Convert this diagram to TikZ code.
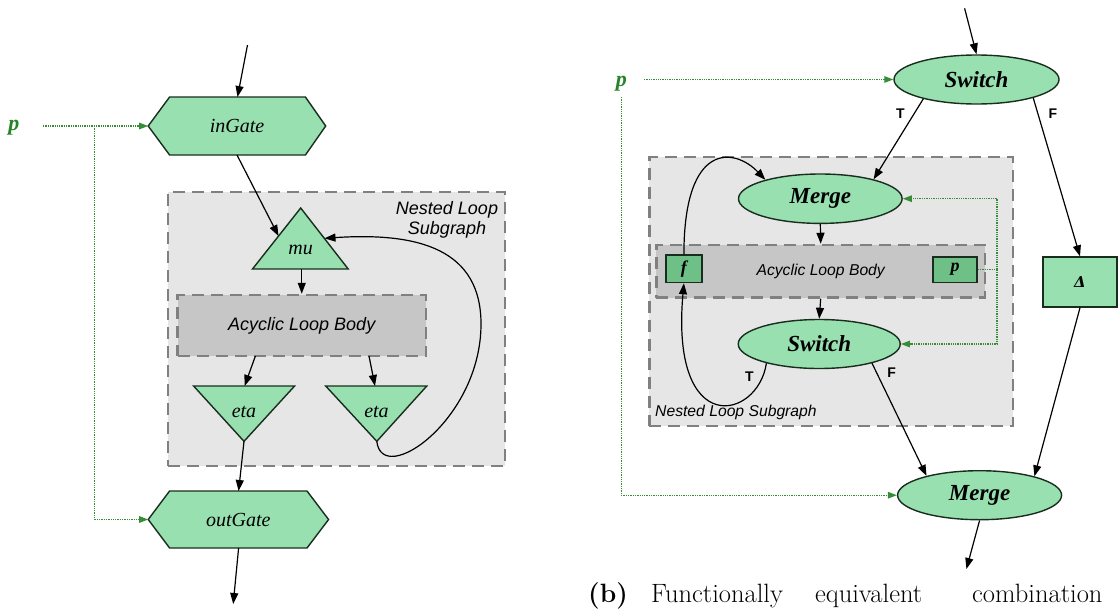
\documentclass[tikz,border=0pt]{standalone}
\usepackage{fontspec}
\newfontfamily\lsans{Liberation Sans}
\newfontfamily\lserif{Liberation Serif}
\newfontfamily\dserif{DejaVu Serif}
\usetikzlibrary{arrows.meta,shapes.geometric}
\definecolor{nfill}{RGB}{152,224,176}
\definecolor{nline}{RGB}{25,45,30}
\definecolor{boxfill}{RGB}{230,230,230}
\definecolor{albfill}{RGB}{198,198,198}
\definecolor{dashc}{RGB}{128,128,128}
\definecolor{pgreen}{RGB}{40,130,40}
\definecolor{dotc}{RGB}{55,140,55}
\definecolor{sqfill}{RGB}{110,192,135}
\begin{document}
\begin{tikzpicture}[x=1pt,y=-1pt,
  shapeline/.style={draw=nline,line width=1.4pt,fill=nfill,line join=miter},
  flow/.style={draw=black,line width=1.2pt,-{Triangle[length=11pt,width=8pt]}},
  pdot/.style={draw=dotc,line width=1.3pt,densely dotted,-{Triangle[length=9pt,width=6.5pt]}},
  pdotl/.style={draw=dotc,line width=1.3pt,densely dotted},
  nestbox/.style={draw=dashc,fill=boxfill,line width=2.5pt,dash pattern=on 12pt off 7pt,inner sep=0pt},
  albbox/.style={draw=dashc,fill=albfill,line width=2.5pt,dash pattern=on 12pt off 7pt,inner sep=0pt},
  serifit/.style={font=\lserif\fontsize{20}{22}\selectfont\itshape,inner sep=0pt},
  sansit/.style={font=\lsans\fontsize{18}{20}\selectfont\itshape,inner sep=0pt},
  sansits/.style={font=\lsans\fontsize{15.7}{18}\selectfont\itshape,inner sep=0pt},
  ellnode/.style={ellipse,shapeline,inner sep=0pt,font=\lserif\fontsize{23}{25}\selectfont\bfseries\itshape},
  sqbox/.style={rectangle,draw=nline,line width=1.4pt,fill=sqfill,inner sep=0pt,font=\lserif\fontsize{18}{20}\selectfont\bfseries\itshape},
  dbox/.style={rectangle,shapeline,inner sep=0pt,font=\dserif\fontsize{15}{17}\selectfont\bfseries\itshape},
  plbl/.style={text=pgreen,font=\lserif\fontsize{22}{24}\selectfont\bfseries\itshape,inner sep=0pt},
  tflbl/.style={font=\lsans\fontsize{14}{16}\selectfont\bfseries,inner sep=0pt},
  captxt/.style={font=\fontsize{26.5}{29}\selectfont,inner sep=0pt,anchor=base west}
]
\useasboundingbox (0,0) rectangle (1118,608);
\clip (0,0) rectangle (1118,608);

% ================= LEFT =================
\node[nestbox,minimum width=337pt,minimum height=274pt] (nestL) at (336.5,329) {};
\node[sansit,align=center] (nestLlbl) at (447,220) {Nested Loop\\Subgraph};
\node[albbox,sansit,minimum width=248.5pt,minimum height=61pt] (albL) at (301.75,325.5) {Acyclic Loop Body};

% inGate hexagon
\draw[shapeline] (148.2,126) -- (169.6,97) -- (305.4,97) -- (325.7,126) -- (305.4,155) -- (169.6,155) -- cycle;
\node[serifit] (inGate) at (237,126) {inGate};
\coordinate (inGateN) at (237.5,97);
\coordinate (inGateS) at (237,155);
\coordinate (inGateW) at (148.2,126);

% mu triangle
\draw[shapeline] (300.7,208) -- (348.2,269) -- (252.5,269) -- cycle;
\node[serifit] (mu) at (300.7,250) {mu};
\coordinate (muL) at (278.5,236);
\coordinate (muR) at (324.5,238.3);
\coordinate (muS) at (301.75,269);

% eta triangles
\draw[shapeline] (193.6,386) -- (294.6,386) -- (244,441.3) -- cycle;
\node[serifit] (etaL) at (244,412) {eta};
\draw[shapeline] (325.7,386) -- (426.8,386) -- (376.8,441.3) -- cycle;
\node[serifit] (etaR) at (376.5,412) {eta};
\coordinate (etaLt) at (244.6,386);
\coordinate (etaRt) at (375,386);
\coordinate (etaLb) at (244,441.3);
\coordinate (etaRb) at (376.8,441.3);
\coordinate (albLa) at (255.4,356);
\coordinate (albLb) at (369,356);

% outGate hexagon
\draw[shapeline] (148.2,519.5) -- (169.6,491) -- (307,491) -- (328.6,519.5) -- (307,548) -- (169.6,548) -- cycle;
\node[serifit] (outGate) at (238.4,519.5) {outGate};
\coordinate (outGateN) at (238.6,491);
\coordinate (outGateS) at (238.6,548);
\coordinate (outGateW) at (148.2,519.5);

% p (left)
\node[plbl] (pL) at (14,128) {p};
\coordinate (pLs) at (43,126);
\coordinate (pLj) at (94.6,126);

% left connectors
\coordinate (inTop) at (247.5,45);
\coordinate (outBot) at (233.2,604);
\coordinate (loopR) at (481,324);
\draw[flow] (inTop) -- (inGateN);
\draw[flow] (inGateS) -- (muL);
\draw[flow] (muS) -- (albL.north);
\draw[flow] (albLa) -- (etaLt);
\draw[flow] (albLb) -- (etaRt);
\draw[flow] (etaLb) -- (outGateN);
\draw[flow] (outGateS) -- (outBot);
\draw[flow] (etaRb) .. controls (382,488) and (481,420) .. (loopR) .. controls (481,250) and (420,232) .. (muR);
\draw[pdot] (pLs) -- (inGateW);
\draw[pdot] (pLj) |- (outGateW);

% ================= RIGHT =================
\node[nestbox,minimum width=363.7pt,minimum height=269pt] (nestR) at (831.15,291.5) {};
\node[sansits,anchor=west] (nestRlbl) at (655,412.7) {Nested Loop Subgraph};
\node[albbox,sansits,minimum width=328.6pt,minimum height=52.5pt] (albR) at (820.7,271.25) {Acyclic Loop Body};
\node[sqbox,minimum width=35.8pt,minimum height=27.5pt] (fbox) at (683.9,268.8) {f};
\node[sqbox,minimum width=44pt,minimum height=25.3pt] (pbox) at (955,269.6) {p};

\node[ellnode,minimum width=165pt,minimum height=49pt] (sw1) at (976.5,79.5) {Switch};
\node[ellnode,minimum width=163.6pt,minimum height=49.4pt] (mg1) at (820.3,198.7) {Merge};
\node[ellnode,minimum width=162pt,minimum height=49pt] (sw2) at (819.2,344) {Switch};
\node[ellnode,minimum width=164pt,minimum height=49pt] (mg2) at (979.6,495.2) {Merge};
\node[dbox,minimum width=74pt,minimum height=50pt] (delta) at (1080,282) {Δ};

\node[plbl] (pR) at (621.4,84) {p};
\coordinate (pRs) at (644,79.5);
\coordinate (pRv) at (621.4,97);
\coordinate (gJ) at (997,269.6);
\coordinate (rTop) at (964.6,8.3);
\coordinate (rBot) at (966.4,569);

\node[tflbl] (lT1) at (900.4,113.3) {T};
\node[tflbl] (lF1) at (1052.9,113.3) {F};
\node[tflbl] (lT2) at (749.3,376.7) {T};
\node[tflbl] (lF2) at (891.7,372.7) {F};

\draw[flow] (rTop) -- (sw1.north);
\draw[flow] (sw1.200) -- (mg1.20);
\draw[flow] (sw1.-18) -- (delta.north);
\draw[flow] (delta.south) -- (mg2.19);
\draw[flow] (sw2.-20) -- (mg2.160);
\draw[flow] (mg1.south) -- (albR.north);
\draw[flow] (albR.south) -- (sw2.north);
\draw[flow] (mg2.south) -- (rBot);
\draw[flow] (fbox.north) .. controls (684,140) and (735,148) .. (mg1.161);
\draw[flow] (sw2.200) .. controls (758,420) and (670,440) .. (fbox.south);

\draw[pdot] (pRs) -- (sw1.west);
\draw[pdot] (pRv) |- (mg2.west);
\draw[pdotl] (pbox.east) -- (gJ);
\draw[pdot] (gJ) |- (mg1.east);
\draw[pdot] (gJ) |- (sw2.east);

% caption
\node[captxt] (capb) at (588,602.5) {\bfseries(b)};
\node[captxt] (cap1) at (651,602.5) {Functionally};
\node[captxt] (cap2) at (815,602.5) {equivalent};
\node[captxt] (cap3) at (972,602.5) {combination};
\end{tikzpicture}
\end{document}
